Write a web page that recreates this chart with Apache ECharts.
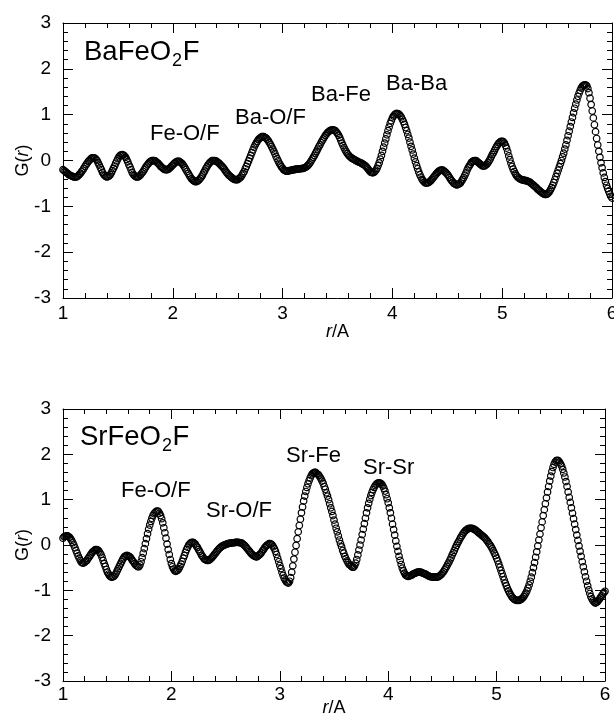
<!DOCTYPE html>
<html><head><meta charset="utf-8">
<script src="https://cdn.jsdelivr.net/npm/echarts@6/dist/echarts.min.js"></script>
<style>html,body{margin:0;padding:0;background:#fff}#c{width:614px;height:717px}</style>
</head><body><div id="c"></div>
<script>
// r grid of the measurement (Å), one point every rStep
const rStart = 1.0, rStep = 0.01;

// G(r) of BaFeO2F, r = 1.00 ... 6.00
const gBaFeO2F = [
-0.20,-0.22,-0.24,-0.26,-0.28,-0.30,-0.32,-0.33,-0.34,-0.35,
-0.36,-0.36,-0.36,-0.35,-0.33,-0.30,-0.28,-0.24,-0.21,-0.17,
-0.13,-0.09,-0.06,-0.02,0.00,0.03,0.05,0.06,0.06,0.05,
0.03,0.00,-0.05,-0.10,-0.15,-0.20,-0.26,-0.30,-0.33,-0.35,
-0.36,-0.35,-0.34,-0.31,-0.27,-0.22,-0.17,-0.12,-0.06,-0.01,
0.04,0.08,0.11,0.12,0.13,0.12,0.10,0.07,0.02,-0.03,
-0.09,-0.14,-0.20,-0.26,-0.30,-0.33,-0.35,-0.36,-0.36,-0.35,
-0.33,-0.30,-0.27,-0.24,-0.20,-0.16,-0.12,-0.09,-0.06,-0.03,
-0.02,0.00,0.00,0.00,-0.01,-0.03,-0.05,-0.07,-0.10,-0.13,
-0.15,-0.17,-0.19,-0.20,-0.20,-0.20,-0.19,-0.17,-0.15,-0.12,
-0.10,-0.07,-0.05,-0.03,-0.02,-0.02,-0.02,-0.04,-0.06,-0.08,
-0.12,-0.16,-0.20,-0.24,-0.28,-0.32,-0.36,-0.40,-0.42,-0.44,
-0.46,-0.46,-0.46,-0.44,-0.42,-0.39,-0.36,-0.32,-0.27,-0.23,
-0.18,-0.14,-0.10,-0.07,-0.04,-0.02,0.00,0.00,0.00,-0.01,
-0.02,-0.04,-0.06,-0.08,-0.11,-0.13,-0.16,-0.19,-0.23,-0.26,
-0.29,-0.32,-0.34,-0.36,-0.38,-0.40,-0.41,-0.42,-0.42,-0.42,
-0.40,-0.38,-0.36,-0.32,-0.28,-0.24,-0.18,-0.13,-0.07,-0.01,
0.05,0.11,0.17,0.23,0.29,0.34,0.38,0.42,0.46,0.48,
0.50,0.52,0.52,0.52,0.50,0.49,0.46,0.43,0.39,0.35,
0.30,0.25,0.20,0.15,0.09,0.04,-0.01,-0.06,-0.10,-0.14,
-0.17,-0.20,-0.22,-0.23,-0.23,-0.23,-0.22,-0.22,-0.21,-0.21,
-0.20,-0.20,-0.19,-0.19,-0.19,-0.18,-0.18,-0.18,-0.17,-0.17,
-0.16,-0.15,-0.13,-0.11,-0.08,-0.05,-0.01,0.03,0.07,0.11,
0.16,0.20,0.25,0.30,0.34,0.39,0.43,0.47,0.51,0.55,
0.58,0.61,0.63,0.65,0.66,0.67,0.67,0.66,0.65,0.62,
0.59,0.55,0.50,0.44,0.38,0.33,0.28,0.23,0.19,0.15,
0.12,0.09,0.07,0.05,0.04,0.02,0.01,0.00,-0.02,-0.03,
-0.04,-0.05,-0.06,-0.08,-0.09,-0.11,-0.13,-0.16,-0.19,-0.22,
-0.25,-0.26,-0.27,-0.26,-0.24,-0.21,-0.17,-0.11,-0.05,0.03,
0.11,0.20,0.29,0.38,0.47,0.56,0.65,0.73,0.81,0.87,
0.93,0.97,1.00,1.02,1.03,1.02,1.01,0.98,0.95,0.90,
0.85,0.79,0.72,0.65,0.57,0.49,0.40,0.31,0.23,0.14,
0.05,-0.03,-0.11,-0.18,-0.25,-0.31,-0.36,-0.41,-0.44,-0.47,
-0.49,-0.49,-0.49,-0.48,-0.46,-0.44,-0.41,-0.38,-0.35,-0.32,
-0.29,-0.26,-0.24,-0.22,-0.21,-0.21,-0.21,-0.23,-0.25,-0.27,
-0.30,-0.33,-0.37,-0.41,-0.44,-0.47,-0.50,-0.51,-0.53,-0.53,
-0.52,-0.51,-0.49,-0.45,-0.41,-0.37,-0.32,-0.27,-0.21,-0.16,
-0.12,-0.08,-0.04,-0.02,-0.01,0.00,0.00,-0.02,-0.04,-0.06,
-0.08,-0.10,-0.12,-0.12,-0.12,-0.10,-0.08,-0.05,-0.01,0.03,
0.08,0.13,0.17,0.22,0.27,0.31,0.35,0.38,0.40,0.42,
0.42,0.41,0.38,0.33,0.27,0.19,0.10,0.02,-0.06,-0.13,
-0.19,-0.24,-0.29,-0.33,-0.36,-0.38,-0.40,-0.41,-0.42,-0.43,
-0.43,-0.44,-0.44,-0.45,-0.46,-0.47,-0.49,-0.51,-0.53,-0.55,
-0.57,-0.59,-0.62,-0.64,-0.66,-0.68,-0.70,-0.72,-0.73,-0.74,
-0.74,-0.73,-0.71,-0.68,-0.64,-0.59,-0.54,-0.48,-0.42,-0.35,
-0.28,-0.21,-0.14,-0.07,0.00,0.08,0.16,0.25,0.34,0.44,
0.54,0.64,0.74,0.84,0.94,1.04,1.14,1.23,1.32,1.40,
1.47,1.53,1.58,1.62,1.64,1.65,1.65,1.63,1.57,1.48,
1.36,1.22,1.08,0.93,0.78,0.63,0.48,0.34,0.20,0.07,
-0.05,-0.16,-0.27,-0.37,-0.46,-0.54,-0.61,-0.67,-0.73,-0.78,
-0.82
];

// G(r) of SrFeO2F, r = 1.00 ... 6.00
const gSrFeO2F = [
0.15,0.18,0.19,0.20,0.20,0.19,0.17,0.14,0.10,0.05,
0.00,-0.06,-0.12,-0.18,-0.24,-0.29,-0.34,-0.38,-0.40,-0.40,
-0.38,-0.36,-0.34,-0.30,-0.27,-0.23,-0.20,-0.16,-0.14,-0.12,
-0.10,-0.10,-0.11,-0.13,-0.17,-0.21,-0.27,-0.34,-0.41,-0.47,
-0.54,-0.60,-0.64,-0.68,-0.70,-0.71,-0.70,-0.69,-0.66,-0.62,
-0.57,-0.52,-0.47,-0.42,-0.37,-0.32,-0.28,-0.25,-0.24,-0.23,
-0.24,-0.25,-0.27,-0.30,-0.34,-0.37,-0.41,-0.44,-0.46,-0.48,
-0.48,-0.44,-0.37,-0.28,-0.18,-0.08,0.03,0.14,0.25,0.35,
0.44,0.52,0.59,0.65,0.69,0.72,0.74,0.75,0.74,0.70,
0.65,0.58,0.49,0.38,0.27,0.15,0.02,-0.10,-0.21,-0.32,
-0.41,-0.48,-0.53,-0.57,-0.58,-0.57,-0.55,-0.52,-0.47,-0.42,
-0.36,-0.29,-0.23,-0.16,-0.10,-0.05,0.00,0.03,0.05,0.06,
0.06,0.04,0.02,-0.02,-0.05,-0.10,-0.14,-0.18,-0.23,-0.26,
-0.30,-0.32,-0.33,-0.34,-0.34,-0.33,-0.31,-0.29,-0.26,-0.23,
-0.20,-0.17,-0.14,-0.11,-0.08,-0.06,-0.04,-0.02,-0.01,0.00,
0.01,0.02,0.03,0.03,0.04,0.04,0.05,0.05,0.05,0.06,
0.06,0.06,0.06,0.05,0.05,0.04,0.02,0.00,-0.02,-0.05,
-0.08,-0.11,-0.14,-0.17,-0.20,-0.22,-0.24,-0.25,-0.26,-0.26,
-0.24,-0.22,-0.20,-0.17,-0.13,-0.10,-0.06,-0.03,-0.01,0.01,
0.03,0.03,0.02,0.00,-0.04,-0.08,-0.14,-0.21,-0.29,-0.37,
-0.45,-0.52,-0.60,-0.67,-0.73,-0.77,-0.81,-0.83,-0.84,-0.80,
-0.72,-0.60,-0.46,-0.31,-0.16,-0.01,0.14,0.29,0.43,0.57,
0.71,0.84,0.97,1.08,1.18,1.27,1.35,1.42,1.48,1.53,
1.57,1.59,1.60,1.60,1.58,1.56,1.54,1.50,1.46,1.41,
1.36,1.29,1.23,1.15,1.08,1.00,0.91,0.82,0.74,0.65,
0.55,0.46,0.37,0.29,0.20,0.11,0.03,-0.04,-0.12,-0.18,
-0.25,-0.30,-0.35,-0.39,-0.43,-0.45,-0.47,-0.49,-0.49,-0.46,
-0.40,-0.32,-0.22,-0.11,0.00,0.11,0.23,0.35,0.47,0.59,
0.71,0.82,0.92,1.01,1.09,1.16,1.22,1.27,1.31,1.34,
1.36,1.37,1.37,1.36,1.34,1.30,1.25,1.19,1.11,1.02,
0.93,0.82,0.71,0.59,0.46,0.34,0.22,0.09,-0.03,-0.14,
-0.25,-0.34,-0.43,-0.51,-0.57,-0.62,-0.66,-0.68,-0.69,-0.69,
-0.68,-0.67,-0.66,-0.64,-0.63,-0.62,-0.61,-0.60,-0.60,-0.60,
-0.60,-0.61,-0.62,-0.63,-0.64,-0.65,-0.67,-0.68,-0.69,-0.70,
-0.70,-0.71,-0.71,-0.71,-0.71,-0.71,-0.70,-0.69,-0.67,-0.65,
-0.62,-0.59,-0.55,-0.51,-0.47,-0.42,-0.38,-0.33,-0.28,-0.22,
-0.17,-0.12,-0.06,-0.01,0.04,0.08,0.13,0.17,0.21,0.25,
0.28,0.31,0.33,0.35,0.36,0.37,0.37,0.37,0.36,0.35,
0.34,0.32,0.30,0.28,0.26,0.24,0.22,0.20,0.18,0.16,
0.13,0.10,0.07,0.03,0.00,-0.04,-0.08,-0.13,-0.18,-0.23,
-0.29,-0.35,-0.42,-0.49,-0.56,-0.63,-0.70,-0.77,-0.84,-0.90,
-0.96,-1.01,-1.06,-1.10,-1.14,-1.17,-1.19,-1.21,-1.22,-1.22,
-1.22,-1.22,-1.21,-1.19,-1.17,-1.14,-1.10,-1.06,-1.01,-0.95,
-0.88,-0.80,-0.71,-0.61,-0.50,-0.39,-0.27,-0.15,-0.02,0.11,
0.24,0.38,0.51,0.65,0.78,0.91,1.04,1.17,1.29,1.41,
1.52,1.62,1.71,1.78,1.83,1.86,1.87,1.86,1.83,1.79,
1.74,1.67,1.59,1.50,1.40,1.29,1.17,1.05,0.94,0.82,
0.70,0.58,0.46,0.34,0.22,0.10,-0.02,-0.14,-0.25,-0.37,
-0.48,-0.59,-0.70,-0.80,-0.90,-0.99,-1.07,-1.14,-1.19,-1.23,
-1.26,-1.28,-1.27,-1.25,-1.22,-1.19,-1.15,-1.12,-1.08,-1.05,
-1.02
];

// axis ranges and tick labels
const xRange = [1, 6];
const yRange = [-3, 3];
const compounds = ['BaFeO2F', 'SrFeO2F'];
const peakLabelsBa = ['Fe-O/F', 'Ba-O/F', 'Ba-Fe', 'Ba-Ba'];
const peakLabelsSr = ['Fe-O/F', 'Sr-O/F', 'Sr-Fe', 'Sr-Sr'];

const toPoints = g => g.map((v, i) => [+(rStart + i * rStep).toFixed(2), v]);

const FONT = '"Liberation Sans", Arial, Helvetica, sans-serif';
const BLACK = '#000';

function xAx(grid, pos, withLabels, margin, nameGap) {
  return {
    type: 'value', gridIndex: grid, position: pos,
    min: xRange[0], max: xRange[1], interval: 1,
    axisLine: { show: true, onZero: false, lineStyle: { color: BLACK, width: 1 } },
    axisTick: { show: true, inside: true, length: 10, lineStyle: { color: BLACK, width: 1 } },
    minorTick: { show: true, splitNumber: 5, length: 5, lineStyle: { color: BLACK, width: 1 } },
    splitLine: { show: false }, minorSplitLine: { show: false },
    axisLabel: { show: withLabels, margin: margin, color: BLACK, fontSize: 19, fontFamily: FONT,
                 showMinLabel: true, showMaxLabel: true, hideOverlap: false },
    name: withLabels ? '{i|r}/A' : '', nameLocation: 'middle', nameGap: nameGap,
    nameMoveOverlap: false,
    nameTextStyle: { color: BLACK, fontSize: 18, fontFamily: FONT,
      rich: { i: { fontStyle: 'italic', fontSize: 18, fontFamily: FONT, color: BLACK } } }
  };
}
function yAx(grid, pos, withLabels) {
  return {
    type: 'value', gridIndex: grid, position: pos,
    min: yRange[0], max: yRange[1], interval: 1,
    axisLine: { show: true, onZero: false, lineStyle: { color: BLACK, width: 1 } },
    axisTick: { show: true, inside: true, length: 10, lineStyle: { color: BLACK, width: 1 } },
    minorTick: { show: true, splitNumber: 5, length: 5, lineStyle: { color: BLACK, width: 1 } },
    splitLine: { show: false }, minorSplitLine: { show: false },
    axisLabel: { show: withLabels, margin: 12, color: BLACK, fontSize: 19, fontFamily: FONT,
                 showMinLabel: true, showMaxLabel: true, hideOverlap: false },
    name: withLabels ? 'G({i|r})' : '', nameLocation: 'middle', nameGap: 31, nameRotate: 90,
    nameMoveOverlap: false,
    nameTextStyle: { color: BLACK, fontSize: 18, fontFamily: FONT,
      rich: { i: { fontStyle: 'italic', fontSize: 18, fontFamily: FONT, color: BLACK } } }
  };
}
function ser(g, xi, yi) {
  return {
    type: 'scatter', xAxisIndex: xi, yAxisIndex: yi, data: toPoints(g),
    symbol: 'circle', symbolSize: 6.5, silent: true, animation: false,
    itemStyle: { color: 'rgba(0,0,0,0)', borderColor: BLACK, borderWidth: 1.2, opacity: 1 },
    emphasis: { disabled: true }
  };
}

// text measuring for the formula with subscript
const mctx = document.createElement('canvas').getContext('2d');
function tw(txt, size) { mctx.font = size + 'px ' + FONT; return mctx.measureText(txt).width; }
function formula(name, x, yc) {
  // name like 'BaFeO2F' -> 'BaFeO' + sub '2' + 'F'
  const idx = name.indexOf('2');
  const a = name.slice(0, idx), b = '2', c = name.slice(idx + 1);
  const big = 27.5, small = 18;
  const wa = tw(a, big), wb = tw(b, small);
  const st = (t, fs) => ({ text: t, fontSize: fs, fontFamily: FONT, fill: BLACK,
                           align: 'left', verticalAlign: 'middle', textAlign: 'left', textVerticalAlign: 'middle' });
  return [
    { type: 'text', x: x, y: yc, style: st(a, big), silent: true },
    { type: 'text', x: x + wa + 1, y: yc + 9, style: st(b, small), silent: true },
    { type: 'text', x: x + wa + wb + 1.5, y: yc, style: st(c, big), silent: true }
  ];
}
function label(t, x, yc) {
  return { type: 'text', x: x, y: yc, silent: true,
    style: { text: t, fontSize: 22, fontFamily: FONT, fill: BLACK,
             align: 'left', verticalAlign: 'middle', textAlign: 'left', textVerticalAlign: 'middle' } };
}

// label placement (pixels)
const baLabelPos = [[150, 134], [235, 117.5], [311, 95], [386, 83.5]];
const srLabelPos = [[121, 490.5], [206, 510.5], [286, 455.5], [363, 467.5]];

const graphics = []
  .concat(formula(compounds[0], 84, 52))
  .concat(formula(compounds[1], 80, 437.5))
  .concat(peakLabelsBa.map((t, i) => label(t, baLabelPos[i][0], baLabelPos[i][1])))
  .concat(peakLabelsSr.map((t, i) => label(t, srLabelPos[i][0], srLabelPos[i][1])));

const chart = echarts.init(document.getElementById('c'), null, { renderer: 'canvas' });
chart.setOption({
  animation: false,
  backgroundColor: '#fff',
  grid: [
    { left: 63, right: 2, top: 23, height: 275, outerBoundsMode: 'none', containLabel: false },
    { left: 63, right: 9, top: 409, height: 272, outerBoundsMode: 'none', containLabel: false }
  ],
  xAxis: [
    xAx(0, 'bottom', true, 6, 25),
    xAx(0, 'top', false, 6, 25),
    xAx(1, 'bottom', true, 4, 18),
    xAx(1, 'top', false, 4, 18)
  ],
  yAxis: [
    yAx(0, 'left', true),
    yAx(0, 'right', false),
    yAx(1, 'left', true),
    yAx(1, 'right', false)
  ],
  series: [ ser(gBaFeO2F, 0, 0), ser(gSrFeO2F, 2, 2) ],
  graphic: graphics
});
</script></body></html>
